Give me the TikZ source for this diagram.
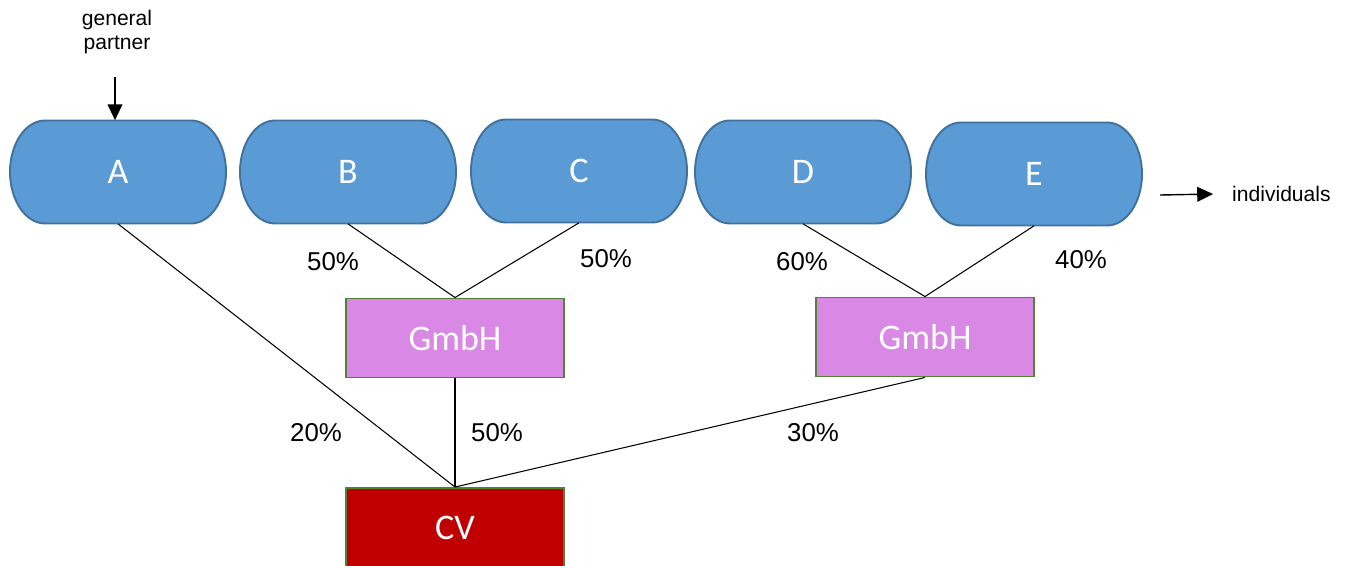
\documentclass[tikz,border=0pt]{standalone}
\usepackage{fontspec}
\setmainfont{Liberation Sans}
\newfontfamily\boxfont{Carlito}
\usetikzlibrary{arrows.meta}
\definecolor{partnerblue}{RGB}{91,155,213}
\definecolor{partneredge}{RGB}{65,113,156}
\definecolor{gmbhpink}{RGB}{217,136,230}
\definecolor{boxgreen}{RGB}{84,130,53}
\definecolor{cvred}{RGB}{192,0,0}

\begin{document}
\begin{tikzpicture}[x=0.02cm,y=-0.02cm]
\tikzstyle{person}=[rectangle,minimum width=4.32cm,minimum height=2.06cm,text=white,font=\boxfont\fontsize{20.5}{24}\selectfont]
\tikzstyle{personrim}=[fill=partnerblue,draw=partneredge,line width=1.1pt]
\tikzstyle{company}=[rectangle,draw=boxgreen,line width=1.1pt,minimum width=4.36cm,minimum height=1.58cm,text=white,font=\boxfont\fontsize{20.5}{24}\selectfont]
\tikzstyle{share}=[font=\fontsize{14.7}{17}\selectfont]
\tikzstyle{note}=[font=\fontsize{12}{13.5}\selectfont,align=center]
\tikzstyle{link}=[line width=0.6pt]
\tikzstyle{pointer}=[line width=0.8pt,-{Triangle[length=9pt,width=8.4pt]}]
\useasboundingbox (0,0) rectangle (1351,565);
\foreach \name/\point in {
	A/{118,172},
	B/{348,172},
	C/{579,171},
	D/{803,172},
	E/{1034,174}}
	{
	\draw[personrim] (\point) ++(-73,-51.5) -- ++(146,0)
		arc[start angle=90,end angle=-90,x radius=0.7cm,y radius=1.03cm] -- ++(-146,0)
		arc[start angle=270,end angle=90,x radius=0.7cm,y radius=1.03cm] -- cycle;
	\node[person] (\name) at (\point) {\name};
	}
\node[company,fill=gmbhpink] (g1) at (455,338) {GmbH};
\node[company,fill=gmbhpink] (g2) at (925,337) {GmbH};
\node[company,fill=cvred,minimum height=1.6cm] (cv) at (455,528) {CV};
\draw[link] (B.south) -- (g1.north);
\draw[link] (C.south) -- (g1.north);
\draw[link] (D.south) -- (g2.north);
\draw[link] (E.south) -- (g2.north);
\draw[link] (A.south) -- (cv.north);
\draw[link] (g1.south) -- (cv.north);
\draw[link] (g2.south) -- (cv.north);
% shares
\foreach \name/\point/\pct in {
	sb/{333,262}/50,
	sc/{606,259}/50,
	sd/{802,262}/60,
	se/{1081,260}/40,
	sa/{316,433}/20,
	sg/{497,433}/50,
	sh/{813,433}/30}
	\node[share] (\name) at (\point) {\pct\%};
% outside labels
\node[note] (gp) at (117,32) {general\\partner};
\coordinate (gpstart) at (115,77);
\draw[pointer] (gpstart) -- (gpstart |- A.north);
\node[note,anchor=west] (ind) at (1226,194) {individuals};
\coordinate (indstart) at (1160,195);
\draw[pointer] (indstart) -- ([xshift=-0.26cm]ind.west);
\end{tikzpicture}
\end{document}
